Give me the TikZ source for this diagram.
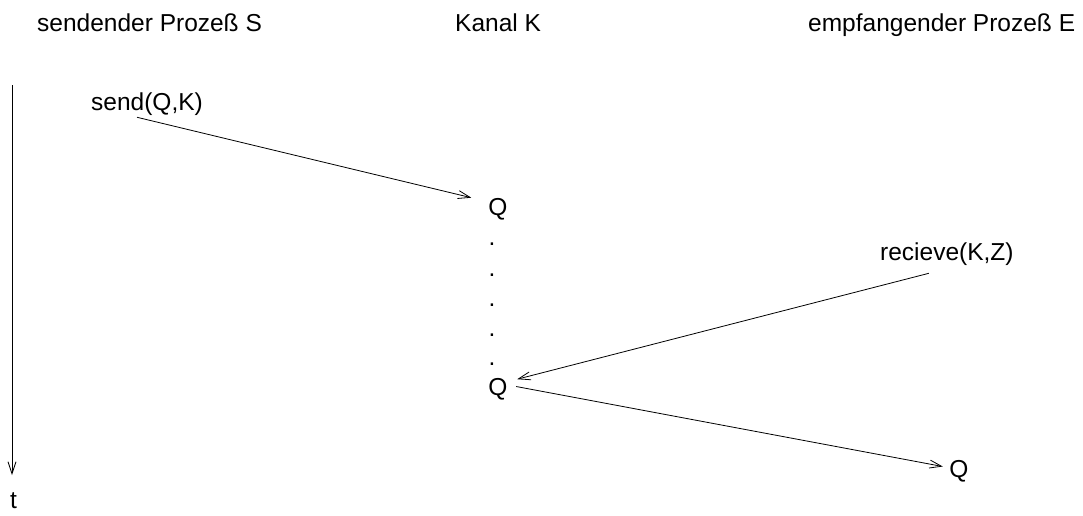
\documentclass[tikz,border=0pt]{standalone}
\usepackage{fontspec}
\setmainfont{Liberation Sans}
\usetikzlibrary{arrows.meta}
\begin{document}
\begin{tikzpicture}[x=1pt,y=-1pt,
  lbl/.style={font=\fontsize{24.5}{28}\selectfont, inner sep=0pt, anchor=base west},
  qn/.style={font=\fontsize{24.5}{28}\selectfont, inner sep=0pt, anchor=base},
  conn/.style={line width=0.8pt, -{Straight Barb[length=12pt,width=8pt,line width=0.8pt]}}]
\useasboundingbox (0,0) rectangle (1083,515);
\node[lbl] (hs) at (37,31) {sendender Prozeß S};
\node[lbl] (hk) at (455,31) {Kanal K};
\node[lbl] (he) at (808,31) {empfangender Prozeß E};
\coordinate (ttop) at (12,85);
\coordinate (tbot) at (12,475);
\node[lbl] (t) at (10,508) {t};
\draw[conn] (ttop) -- (tbot);
\node[lbl] (send) at (91,110) {send(Q,K)};
\node[qn] (q1) at (498,215) {Q};
\foreach \i/\y in {1/245,2/276,3/306,4/336,5/365}{
  \node[qn] (d\i) at (492,\y) {.};
}
\node[qn] (q2) at (498,395) {Q};
\node[lbl] (rec) at (880,260) {recieve(K,Z)};
\node[qn] (q3) at (959,477) {Q};
\draw[conn] ([xshift=-10pt,yshift=-2pt]send.south) -- ([xshift=-17pt]q1.north west);
\draw[conn] ([xshift=-18pt,yshift=-8pt]rec.south) -- ([xshift=9.5pt,yshift=-1.5pt]q2.north east);
\draw[conn] ([xshift=8.5pt,yshift=2.25pt]q2.east) -- ([xshift=-6.5pt,yshift=4.25pt]q3.west);
\end{tikzpicture}
\end{document}
